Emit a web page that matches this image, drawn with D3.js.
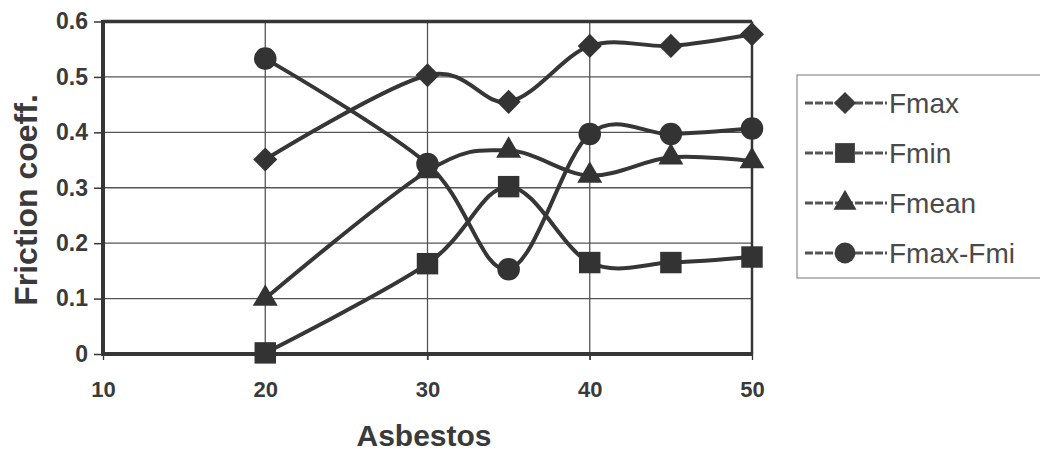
<!DOCTYPE html>
<html>
<head>
<meta charset="UTF-8">
<script src="https://d3js.org/d3.v7.min.js"></script>
<style>
  body { margin: 0; background: #fff; }
  svg { display: block; font-family: "Liberation Sans", Arial, sans-serif; }
</style>
</head>
<body>
<svg width="1040" height="452"></svg>
<script>
// data
const asbestos = [20, 30, 35, 40, 45, 50];
const frmax  = [0.351, 0.503, 0.455, 0.556, 0.556, 0.577];
const frmin  = [0.002, 0.163, 0.302, 0.165, 0.165, 0.175];
const frmean = [0.100, 0.330, 0.367, 0.322, 0.355, 0.348];
const frdiff = [0.533, 0.343, 0.153, 0.397, 0.397, 0.407];
const seriesNames = ["Fmax", "Fmin", "Fmean", "Fmax-Fmi"];
const xTicks = [10, 20, 30, 40, 50];
const yTicks = [0, 0.1, 0.2, 0.3, 0.4, 0.5, 0.6];

const ink = "#363636";
const svg = d3.select("svg");

const x = d3.scaleLinear().domain([10, 50]).range([103, 752]);
const y = d3.scaleLinear().domain([0, 0.6]).range([354, 21.5]);

// gridlines
const g = svg.append("g");
g.selectAll(".hgrid").data(yTicks.slice(1, -1)).enter().append("line")
  .attr("x1", x(10)).attr("x2", x(50))
  .attr("y1", d => y(d)).attr("y2", d => y(d))
  .attr("stroke", "#555").attr("stroke-width", 1.3);
g.selectAll(".vgrid").data([20, 30, 40]).enter().append("line")
  .attr("x1", d => x(d)).attr("x2", d => x(d))
  .attr("y1", y(0.6)).attr("y2", y(0) + 6)
  .attr("stroke", "#555").attr("stroke-width", 1.3);

// y axis
const yAxis = svg.append("g")
  .attr("transform", `translate(${x(10)},0)`)
  .call(d3.axisLeft(y).tickValues(yTicks).tickFormat(d => d === 0 ? "0" : d3.format(".1f")(d)).tickSize(9).tickPadding(6));
yAxis.select(".domain").remove();
yAxis.selectAll("line").attr("stroke", ink).attr("stroke-width", 1.5);
yAxis.selectAll("text").attr("font-size", 23).attr("font-weight", "bold").attr("fill", "#3a3a3a")
  .attr("font-family", "Liberation Sans, Arial, sans-serif");

// x axis
const xAxis = svg.append("g")
  .attr("transform", `translate(0,${y(0)})`)
  .call(d3.axisBottom(x).tickValues(xTicks).tickSize(6).tickPadding(21));
xAxis.select(".domain").remove();
xAxis.selectAll("line").attr("stroke", ink).attr("stroke-width", 1.3);
xAxis.selectAll("text").attr("font-size", 22).attr("font-weight", "bold").attr("fill", "#3a3a3a")
  .attr("font-family", "Liberation Sans, Arial, sans-serif");

// plot frame
svg.append("line").attr("x1", x(10)).attr("x2", x(50)).attr("y1", y(0.6)).attr("y2", y(0.6))
  .attr("stroke", ink).attr("stroke-width", 3.5);
svg.append("line").attr("x1", x(50)).attr("x2", x(50)).attr("y1", y(0.6)).attr("y2", y(0))
  .attr("stroke", ink).attr("stroke-width", 2.5);
svg.append("line").attr("x1", x(10)).attr("x2", x(50)).attr("y1", y(0)).attr("y2", y(0))
  .attr("stroke", ink).attr("stroke-width", 4);
svg.append("line").attr("x1", x(10)).attr("x2", x(10)).attr("y1", y(0.6) - 1.5).attr("y2", y(0) + 2)
  .attr("stroke", ink).attr("stroke-width", 4);

// series
const series = [
  { name: seriesNames[0], values: frmax,  symbol: d3.symbolSquare,   size: 290, rot: 45 },
  { name: seriesNames[1], values: frmin,  symbol: d3.symbolSquare,   size: 460, rot: 0 },
  { name: seriesNames[2], values: frmean, symbol: d3.symbolTriangle, size: 270, rot: 0 },
  { name: seriesNames[3], values: frdiff, symbol: d3.symbolCircle,   size: 400, rot: 0 }
];

const line = d3.line()
  .x((d, i) => x(asbestos[i]))
  .y(d => y(d))
  .curve(d3.curveCatmullRom.alpha(0));

series.forEach(s => {
  svg.append("path")
    .attr("d", line(s.values))
    .attr("fill", "none")
    .attr("stroke", ink)
    .attr("stroke-width", 4);
});

series.forEach(s => {
  svg.selectAll(null).data(s.values).enter().append("path")
    .attr("d", d3.symbol().type(s.symbol).size(s.size))
    .attr("transform", (d, i) => `translate(${x(asbestos[i])},${y(d)}) rotate(${s.rot})`)
    .attr("fill", "#333");
});

// axis titles
svg.append("text")
  .attr("x", 424).attr("y", 446)
  .attr("text-anchor", "middle")
  .attr("font-size", 30).attr("font-weight", "bold").attr("fill", "#3a3a3a")
  .text("Asbestos");

svg.append("text")
  .attr("transform", "translate(37,200) rotate(-90)")
  .attr("text-anchor", "middle")
  .attr("font-size", 32).attr("font-weight", "bold").attr("fill", "#3a3a3a")
  .text("Friction coeff.");

// legend
const legend = svg.append("g");
legend.append("rect")
  .attr("x", 797).attr("y", 75).attr("width", 260).attr("height", 203)
  .attr("fill", "none").attr("stroke", "#777").attr("stroke-width", 1);

const rowY = d3.scalePoint().domain(seriesNames).range([103, 253]);
series.forEach(s => {
  const row = legend.append("g").attr("transform", `translate(0,${rowY(s.name)})`);
  row.append("line").attr("x1", 805).attr("x2", 887).attr("y1", 0).attr("y2", 0)
    .attr("stroke", "#555").attr("stroke-width", 3).attr("stroke-dasharray", "8,2");
  row.append("path")
    .attr("d", d3.symbol().type(s.symbol).size(s.size * 0.85))
    .attr("transform", `translate(845,0) rotate(${s.rot})`)
    .attr("fill", "#3a3a3a");
  row.append("text")
    .attr("x", 889).attr("y", 10)
    .attr("font-size", 28).attr("fill", "#4a4a4a")
    .text(s.name);
});
</script>
</body>
</html>
